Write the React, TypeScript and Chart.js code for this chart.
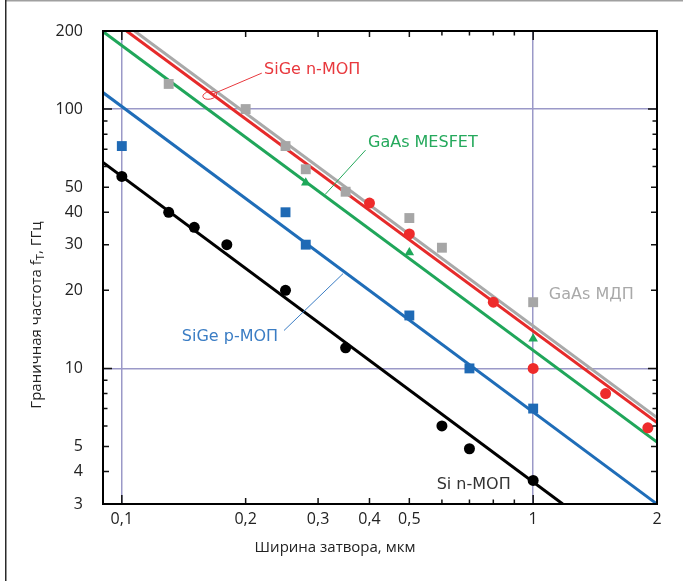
import React, { useEffect, useRef } from 'react';
import { Chart, registerables } from 'chart.js';

Chart.register(...registerables);

// Axis ticks
const xTicks = [0.1, 0.2, 0.3, 0.4, 0.5, 0.6, 0.7, 0.8, 0.9, 1, 2];
const xLabeled = [0.1, 0.2, 0.3, 0.4, 0.5, 1, 2];
const yTicks = [3, 4, 5, 6, 7, 8, 9, 10, 20, 30, 40, 50, 60, 70, 80, 90, 100, 200];
const yLabeled = [3, 4, 5, 10, 20, 30, 40, 50, 100, 200];
const gridX = [0.1, 1];
const gridY = [10, 100];

// Measured points
const siNmosX = [0.1, 0.13, 0.15, 0.18, 0.25, 0.35, 0.6, 0.7, 1];
const siNmosY = [55, 40, 35, 30, 20, 12, 6, 4.9, 3.7];
const sigePmosX = [0.1, 0.25, 0.28, 0.5, 0.7, 1];
const sigePmosY = [72, 40, 30, 16, 10, 7];
const gaasMesfetX = [0.28, 0.5, 1];
const gaasMesfetY = [52, 28, 13];
const sigeNmosX = [0.4, 0.5, 0.8, 1, 1.5, 1.9];
const sigeNmosY = [43.4, 33, 18, 10, 8, 5.9];
const gaasMisX = [0.13, 0.2, 0.25, 0.28, 0.35, 0.5, 0.6, 1];
const gaasMisY = [125, 100, 72, 58.6, 48, 38, 29.2, 18];

// Fit lines (end points)
const fitGaasMisX = [0.1074, 2];
const fitGaasMisY = [200, 6.46];
const fitSigeNmosX = [0.1027, 2];
const fitSigeNmosY = [200, 6.18];
const fitGaasMesfetX = [0.09, 2];
const fitGaasMesfetY = [199, 5.2];
const fitSigePmosX = [0.09, 2];
const fitSigePmosY = [115.8, 3.0];
const fitSiNmosX = [0.09, 1.18];
const fitSiNmosY = [62.3, 3.0];

// Annotation labels (data coordinates of the text's left-middle)
const labelTexts = ['SiGe n-МОП', 'GaAs MESFET', 'SiGe p-МОП', 'GaAs МДП', 'Si n-МОП'];
const labelX = [0.2217, 0.3967, 0.1399, 1.0917, 0.5825];
const labelY = [141.1, 74.36, 13.2, 19.15, 3.543];
const labelColors = ['#e8383d', '#25a95c', '#3b7dc4', '#a9a9a9', '#333333'];
// Leader lines
const leaderX1 = [0.2189, 0.3913, 0.2479];
const leaderY1 = [137.6, 69.45, 14.0];
const leaderX2 = [0.1669, 0.3118, 0.345];
const leaderY2 = [114.5, 46.77, 23.2];
const leaderColors = ['#e8383d', '#25a95c', '#3b7dc4'];
const ellipseX = [0.1636];
const ellipseY = [113.0];

const pts = (xs: number[], ys: number[]) => xs.map((x, i) => ({ x, y: ys[i] }));

const GRID = '#9b99c8';

const decor = {
  id: 'decor',
  beforeDraw(chart: any) {
    const ctx = chart.ctx;
    ctx.save();
    ctx.fillStyle = '#a0a0a0';
    ctx.fillRect(5, 0, chart.width - 5, 1.5);
    ctx.fillStyle = '#2a2a2a';
    ctx.fillRect(5, 0, 1.5, chart.height);
    ctx.restore();
  },
  afterDatasetsDraw(chart: any) {
    const ctx = chart.ctx;
    const xs = chart.scales.x;
    const ys = chart.scales.y;
    const { left, right, top, bottom } = chart.chartArea;
    ctx.save();
    ctx.strokeStyle = '#111';
    ctx.lineWidth = 1.5;
    ctx.beginPath();
    for (const v of xTicks) {
      const p = xs.getPixelForValue(v);
      const len = gridX.includes(v) ? 9 : xLabeled.includes(v) ? 6 : 4.5;
      ctx.moveTo(p, bottom);
      ctx.lineTo(p, bottom - len);
      ctx.moveTo(p, top);
      ctx.lineTo(p, top + len);
    }
    for (const v of yTicks) {
      const p = ys.getPixelForValue(v);
      const len = gridY.includes(v) ? 9 : yLabeled.includes(v) ? 6 : 4.5;
      ctx.moveTo(left, p);
      ctx.lineTo(left + len, p);
      ctx.moveTo(right, p);
      ctx.lineTo(right - len, p);
    }
    ctx.stroke();
    ctx.lineWidth = 2;
    ctx.strokeStyle = '#000';
    ctx.strokeRect(left, top, right - left, bottom - top);
    ctx.restore();
  },
  afterDraw(chart: any) {
    const ctx = chart.ctx;
    const xs = chart.scales.x;
    const ys = chart.scales.y;
    ctx.save();
    // leader lines
    ctx.lineWidth = 1;
    leaderX1.forEach((x1, i) => {
      ctx.strokeStyle = leaderColors[i];
      ctx.beginPath();
      ctx.moveTo(xs.getPixelForValue(x1), ys.getPixelForValue(leaderY1[i]));
      ctx.lineTo(xs.getPixelForValue(leaderX2[i]), ys.getPixelForValue(leaderY2[i]));
      ctx.stroke();
    });
    ellipseX.forEach((ex, i) => {
      ctx.strokeStyle = leaderColors[0];
      ctx.beginPath();
      ctx.ellipse(xs.getPixelForValue(ex), ys.getPixelForValue(ellipseY[i]), 7, 3.8, -0.2, 0, Math.PI * 2);
      ctx.stroke();
    });
    // labels
    ctx.font = '16px "DejaVu Sans"';
    ctx.textBaseline = 'middle';
    ctx.textAlign = 'left';
    labelTexts.forEach((t, i) => {
      ctx.fillStyle = labelColors[i];
      ctx.fillText(t, xs.getPixelForValue(labelX[i]), ys.getPixelForValue(labelY[i]));
    });
    // axis titles
    ctx.fillStyle = '#222';
    ctx.font = '15px "Open Sans"';
    ctx.textAlign = 'center';
    ctx.fillText('Ширина затвора, мкм', 335, 548);

    ctx.translate(37, 315);
    ctx.rotate(-Math.PI / 2);
    const mainFont = '15px "Open Sans"';
    const subFont = '11px "Open Sans"';
    const parts: [string, string, number][] = [
      ['Граничная частота f', mainFont, 0],
      ['T', subFont, 4],
      [', ГГц', mainFont, 0],
    ];
    let total = 0;
    const widths = parts.map(([t, f]) => {
      ctx.font = f;
      const w = ctx.measureText(t).width;
      total += w;
      return w;
    });
    let cx = -total / 2;
    ctx.textAlign = 'left';
    parts.forEach(([t, f, dy], i) => {
      ctx.font = f;
      ctx.fillText(t, cx, dy);
      cx += widths[i];
    });
    ctx.restore();
  },
};

export default function App() {
  const ref = useRef<HTMLCanvasElement>(null);
  useEffect(() => {
    document.body.style.margin = '0';
    const canvas = ref.current!;
    const lineDs = (xs: number[], ys: number[], color: string) => ({
      data: pts(xs, ys),
      showLine: true,
      borderColor: color,
      borderWidth: 3,
      pointRadius: 0,
      order: 2,
    });
    const ptDs = (xs: number[], ys: number[], color: string, style: string, r: number) => ({
      data: pts(xs, ys),
      showLine: false,
      backgroundColor: color,
      borderColor: color,
      borderWidth: 0,
      pointStyle: style,
      pointRadius: r,
      order: 1,
    });
    const chart = new Chart(canvas, {
      type: 'scatter',
      data: {
        datasets: [
          lineDs(fitGaasMisX, fitGaasMisY, '#a9a9a9'),
          lineDs(fitSigeNmosX, fitSigeNmosY, '#e62a2a'),
          lineDs(fitGaasMesfetX, fitGaasMesfetY, '#20a65a'),
          lineDs(fitSigePmosX, fitSigePmosY, '#1f6db8'),
          lineDs(fitSiNmosX, fitSiNmosY, '#000000'),
          ptDs(gaasMisX, gaasMisY, '#a6a6a6', 'rect', 7),
          ptDs(sigeNmosX, sigeNmosY, '#ee2b2b', 'circle', 5.5),
          ptDs(gaasMesfetX, gaasMesfetY, '#1ea85a', 'triangle', 5.5),
          ptDs(sigePmosX, sigePmosY, '#1f6ab5', 'rect', 7),
          ptDs(siNmosX, siNmosY, '#000000', 'circle', 5.5),
        ] as any,
      },
      options: {
        responsive: false,
        animation: false,
        layout: { padding: { left: 0, top: 31, right: 26, bottom: 0 } },
        plugins: { legend: { display: false }, tooltip: { enabled: false } },
        scales: {
          x: {
            type: 'logarithmic',
            min: 0.09,
            max: 2,
            afterBuildTicks: (s: any) => {
              s.ticks = xTicks.map((v) => ({ value: v }));
            },
            afterFit: (s: any) => {
              s.height = 77;
            },
            ticks: {
              autoSkip: false,
              maxRotation: 0,
              padding: 6,
              color: '#222',
              font: { family: 'Open Sans', size: 16 },
              callback: (v: any) => (xLabeled.includes(v) ? String(v).replace('.', ',') : ''),
            },
            grid: {
              drawTicks: false,
              lineWidth: 1.5,
              color: (c: any) => (c.tick && gridX.includes(c.tick.value) ? GRID : 'rgba(0,0,0,0)'),
            },
            border: { display: false },
          },
          y: {
            type: 'logarithmic',
            min: 3,
            max: 200,
            afterBuildTicks: (s: any) => {
              s.ticks = yTicks.map((v) => ({ value: v }));
            },
            afterFit: (s: any) => {
              s.width = 103;
            },
            ticks: {
              autoSkip: false,
              padding: 20,
              color: '#222',
              font: { family: 'Open Sans', size: 16 },
              callback: (v: any) => (yLabeled.includes(v) ? String(v) : ''),
            },
            grid: {
              drawTicks: false,
              lineWidth: 1.5,
              color: (c: any) => (c.tick && gridY.includes(c.tick.value) ? GRID : 'rgba(0,0,0,0)'),
            },
            border: { display: false },
          },
        },
      },
      plugins: [decor],
    });
    return () => chart.destroy();
  }, []);
  return <canvas ref={ref} width={683} height={581} style={{ display: 'block' }} />;
}
